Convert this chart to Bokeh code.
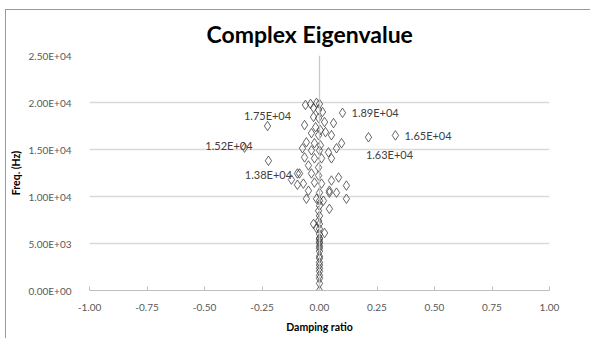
from bokeh.plotting import figure
from bokeh.models import ColumnDataSource, FixedTicker, Span, InlineStyleSheet
from bokeh.embed import file_html
from bokeh.resources import INLINE
from bokeh.core.properties import value

# ---- data ----
damping = [
    -0.061, -0.039, -0.013, 0.000, -0.026, -0.004, 0.013,
    -0.026, -0.004, 0.022, 0.061, -0.065, -0.017, 0.004, 0.026, -0.035, -0.004, 0.052,
    -0.057, -0.022, 0.004, 0.096, -0.074, -0.035, 0.000, 0.039, 0.074,
    -0.065, -0.022, 0.009, 0.052, -0.048, -0.004, -0.087, -0.035, -0.004, 0.083,
    -0.070, -0.022, 0.009, 0.052, 0.117, -0.048, 0.000, 0.043, 0.117, -0.013, 0.017,
    -0.096, -0.096, -0.122, 0.074, 0.043, -0.057, 0.000, 0.043, 0.000, -0.004,
    0.000, -0.004, 0.000, -0.013, 0.000, -0.026, 0.022, 0.000, 0.000, 0.000,
    0.000, 0.000, 0.000, 0.000, 0.000, 0.000, 0.000, 0.000, 0.000, 0.000,
    0.000, 0.000, 0.000, 0.000, 0.000,
]
freq = [
    19740, 19850, 19960, 19850, 19420, 19210, 18990,
    18460, 18350, 17920, 17810, 17600, 17380, 17060, 16850, 16740, 16520, 16520,
    15770, 15670, 15450, 15670, 15130, 14910, 14910, 14700, 15130,
    14160, 14060, 14060, 14060, 13300, 13090, 12450, 12450, 12230, 12020,
    11370, 11480, 11370, 11700, 11160, 10620, 10410, 10620, 9760, 9760, 9550,
    12450, 11250, 11800, 10410, 10410, 9760, 9550, 8690, 9010, 8480,
    7940, 7400, 7080, 6650, 6550, 7080, 6120, 5580,
    5470, 5040, 4720, 4180, 3650, 3430, 2360, 2040, 1290, 750, 0,
    3000, 2700, 4500, 6000, 5200, 1600,
]

# labelled points
lab_damping = [-0.226, -0.326, -0.222, 0.100, 0.330, 0.213]
lab_freq = [17500, 15200, 13800, 18900, 16500, 16300]
lab_text = ["1.75E+04", "1.52E+04", "1.38E+04", "1.89E+04", "1.65E+04", "1.63E+04"]

x_ticks = [-1.0, -0.75, -0.5, -0.25, 0.0, 0.25, 0.5, 0.75, 1.0]
x_tick_labels = ["-1.00", "-0.75", "-0.50", "-0.25", "0.00", "0.25", "0.50", "0.75", "1.00"]
y_ticks = [0, 5000, 10000, 15000, 20000, 25000]
y_tick_labels = ["0.00E+00", "5.00E+03", "1.00E+04", "1.50E+04", "2.00E+04", "2.50E+04"]

FONT = "Lato"

border_css = InlineStyleSheet(css=":host { border-top: 1px solid #9a9a9a; border-left: 1px solid #9a9a9a; }")

p = figure(
    width=585, height=329,
    x_range=(-1.0, 1.0), y_range=(0, 25000),
    output_backend="svg", toolbar_location=None,
    min_border_left=83, min_border_right=42, min_border_top=45, min_border_bottom=49,
    margin=(9, 0, 0, 5),
    stylesheets=[border_css],
)

p.title.text = "Complex Eigenvalue"
p.title.text_font = FONT
p.title.text_font_size = "23px"
p.title.text_font_style = "bold"
p.title.align = "left"
p.title.offset = 117
p.title.text_color = "#000000"
p.title.standoff = 15

p.outline_line_color = None
p.background_fill_color = "white"
p.border_fill_color = "white"

# axes
p.xaxis.ticker = FixedTicker(ticks=x_ticks)
p.xaxis.major_label_overrides = {t: l for t, l in zip(x_ticks, x_tick_labels)}
p.yaxis.ticker = FixedTicker(ticks=y_ticks)
p.yaxis.major_label_overrides = {t: l for t, l in zip(y_ticks, y_tick_labels)}

for ax in (p.xaxis, p.yaxis):
    ax.major_label_text_font = FONT
    ax.major_label_text_font_size = "10px"
    ax.major_label_text_color = "#595959"
    ax.axis_label_text_font = FONT
    ax.axis_label_text_font_size = "10.5px"
    ax.axis_label_text_font_style = "bold"
    ax.axis_label_text_color = "#000000"
    ax.minor_tick_line_color = None

p.xaxis.axis_label = "Damping ratio"
p.xaxis.axis_line_color = "#bfbfbf"
p.xaxis.major_tick_line_color = "#bfbfbf"
p.xaxis.major_tick_in = 4
p.xaxis.major_tick_out = 0
p.xaxis.major_label_standoff = 13
p.xaxis.axis_label_standoff = 7

p.yaxis.axis_label = "Freq. (Hz)"
p.yaxis.axis_line_color = None
p.yaxis.major_tick_line_color = None
p.yaxis.major_label_standoff = 12
p.yaxis.axis_label_standoff = 4

p.xgrid.grid_line_color = None
p.ygrid.grid_line_color = "#d9d9d9"
p.ygrid.grid_line_width = 1.3

p.add_layout(Span(location=0, dimension="height", line_color="#c8c8c8", line_width=1.3))

src = ColumnDataSource(dict(x=damping, y=freq))
p.scatter("x", "y", source=src, marker="diamond", size=9.5,
          fill_color=None, line_color="#333333", line_alpha=0.75, line_width=1)

lsrc = ColumnDataSource(dict(x=lab_damping, y=lab_freq))
p.scatter("x", "y", source=lsrc, marker="diamond", size=9.5,
          fill_color=None, line_color="#333333", line_alpha=0.75, line_width=1)

# label placements (pixel offsets) per labelled point
placements = [
    dict(x_offset=0, y_offset=-4, text_align="center", text_baseline="bottom"),
    dict(x_offset=8, y_offset=-2, text_align="right", text_baseline="middle"),
    dict(x_offset=0, y_offset=7, text_align="center", text_baseline="top"),
    dict(x_offset=9, y_offset=0, text_align="left", text_baseline="middle"),
    dict(x_offset=9, y_offset=0, text_align="left", text_baseline="middle"),
    dict(x_offset=21, y_offset=11, text_align="center", text_baseline="top"),
]
for i, pl in enumerate(placements):
    p.text(x=[lab_damping[i]], y=[lab_freq[i]], text=[lab_text[i]],
           text_font=value(FONT), text_font_size="11px", text_color="#404040", **pl)

open("out.html", "w").write(file_html(p, INLINE))
